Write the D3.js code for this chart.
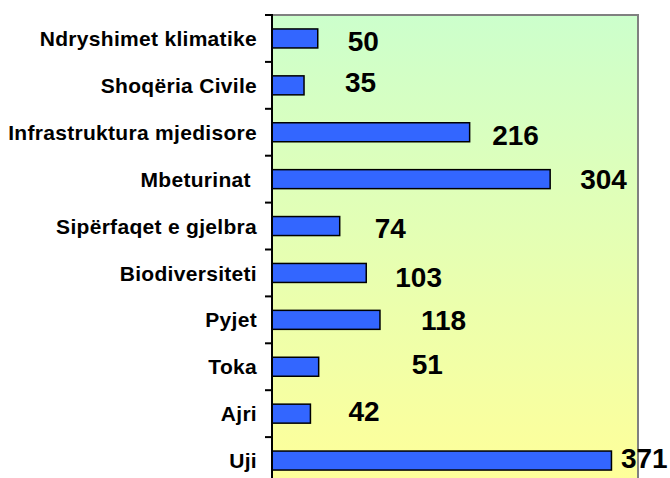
<!DOCTYPE html>
<html><head><meta charset="utf-8">
<script src="https://cdn.jsdelivr.net/npm/d3@7"></script>
<style>html,body{margin:0;padding:0;background:#fff}svg{display:block}</style>
</head><body>
<svg id="chart" width="670" height="478"></svg>
<script>
const categories = ["Ndryshimet klimatike","Shoqëria Civile","Infrastruktura mjedisore","Mbeturinat ","Sipërfaqet e gjelbra","Biodiversiteti","Pyjet","Toka","Ajri","Uji"];
const values = [50,35,216,304,74,103,118,51,42,371];
const valueDomain = [0,400];

// hand-placed label nudges (px) relative to bar end / bar centre, as in the reference
const labelOffsets = [[30,2.5],[41,-3.5],[22.5,3],[30,0],[35,2],[29,4],[41,0],[93,-3],[38,-3],[9.5,-2.5]];

(function(){
const svg = d3.select("#chart");
const pL = 272, pR = 638, pT = 15, pB = 484;

const x = d3.scaleLinear().domain(valueDomain).range([pL, pR]);
const y = d3.scaleBand().domain(categories).range([pT, pB]).paddingInner(0.595).paddingOuter(0.2975);

const defs = svg.append("defs");
const grad = defs.append("linearGradient").attr("id","bg").attr("x1",0).attr("y1",0).attr("x2",0).attr("y2",1);
grad.append("stop").attr("offset","0%").attr("stop-color","#CCFFCC");
grad.append("stop").attr("offset","100%").attr("stop-color","#FFFF99");

svg.append("rect").attr("x",pL).attr("y",pT).attr("width",pR-pL).attr("height",pB-pT).attr("fill","url(#bg)");

svg.append("path").attr("d",`M${pL},${pT}H${pR}V${pB}`).attr("fill","none").attr("stroke","#808080").attr("stroke-width",2);

svg.selectAll("rect.bar").data(values).join("rect").attr("class","bar")
  .attr("x",x(0)).attr("y",(d,i)=>y(categories[i]))
  .attr("width",d=>x(d)-x(0)).attr("height",y.bandwidth())
  .attr("fill","#3366FF").attr("stroke","#000").attr("stroke-width",1.5);

const boundaries = d3.range(categories.length+1).map(i=>pT + i*(pB-pT)/categories.length);
svg.append("line").attr("x1",pL).attr("x2",pL).attr("y1",pT-1).attr("y2",pB).attr("stroke","#000").attr("stroke-width",2);
svg.selectAll("line.tick").data(boundaries).join("line").attr("class","tick")
  .attr("x1",pL-7).attr("x2",pL).attr("y1",d=>d).attr("y2",d=>d).attr("stroke","#000").attr("stroke-width",2);

svg.selectAll("text.cat").data(categories).join("text").attr("class","cat")
  .attr("x",257).attr("y",d=>y(d)+y.bandwidth()/2).attr("dy","0.36em")
  .attr("text-anchor","end").style("white-space","pre").style("letter-spacing","0.3px")
  .attr("font-family","'Liberation Sans', Arial, sans-serif").attr("font-weight","bold").attr("font-size",21)
  .attr("fill","#000").text(d=>d);

svg.selectAll("text.val").data(values).join("text").attr("class","val")
  .attr("x",(d,i)=>x(d)+labelOffsets[i][0]).attr("y",(d,i)=>y(categories[i])+y.bandwidth()/2+labelOffsets[i][1]).attr("dy","0.36em")
  .attr("font-family","'Liberation Sans', Arial, sans-serif").attr("font-weight","bold").attr("font-size",28)
  .attr("fill","#000").text(d=>d);
})();
</script>
</body></html>
